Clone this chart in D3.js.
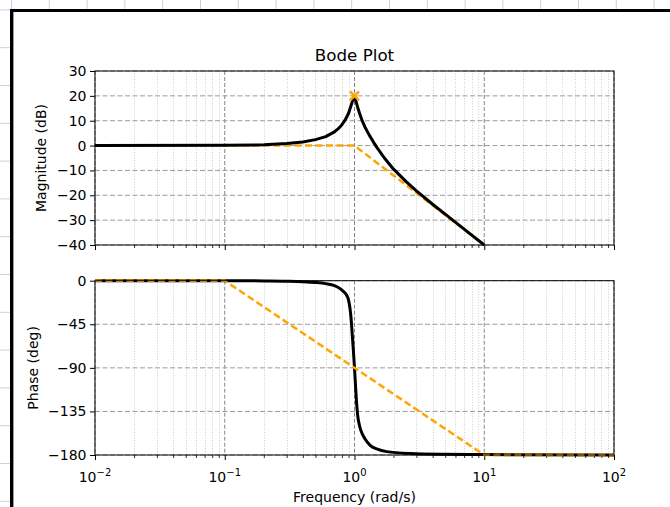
<!DOCTYPE html>
<html><head><meta charset="utf-8">
<script src="https://cdn.jsdelivr.net/npm/d3@7"></script>
<style>html,body{margin:0;padding:0;background:#fff;}svg{display:block;font-family:"DejaVu Sans",sans-serif;}</style>
</head><body>
<svg id="chart" width="670" height="507"></svg>
<script>
// ---- data ----
const magFreq  = [0.01, 0.1, 0.2, 0.3, 0.4, 0.5, 0.6, 0.7, 0.75, 0.8, 0.85, 0.9, 0.94, 0.97, 1.0, 1.03, 1.06, 1.1, 1.15, 1.2, 1.3, 1.4, 1.5, 1.7, 2.0, 2.5, 3, 4, 5, 7, 10];
const magDb    = [0, 0.1, 0.3, 0.8, 1.4, 2.4, 3.6, 5.5, 6.8, 8.4, 10.4, 13.0, 16.0, 18.3, 20, 17.6, 15.2, 12.6, 9.8, 7.6, 4.2, 1.4, -1.0, -5.0, -9.5, -14.5, -18.2, -23.6, -27.6, -33.6, -40];
const phaseFreq = [0.01, 0.1, 0.2, 0.3, 0.4, 0.5, 0.6, 0.7, 0.77, 0.82, 0.87, 0.9, 0.923, 0.94, 0.96, 0.98, 1.0, 1.02, 1.04, 1.06, 1.09, 1.13, 1.2, 1.32, 1.5, 1.77, 2.7, 5, 10, 100];
const phaseDeg  = [0, 0, -0.2, -0.5, -1, -1.8, -3, -5, -7.9, -11, -15, -20, -28.5, -38, -55, -72, -90, -110, -128, -140, -149, -156, -163, -170, -174, -176.5, -178.5, -179.3, -179.6, -180];
const magAsymFreq = [0.01, 1, 10];
const magAsymDb   = [0, 0, -40];
const phAsymFreq  = [0.01, 0.1, 10, 100];
const phAsymDeg   = [0, 0, -180, -180];
const peakFreq = [1];
const peakDb   = [20];
const magTicks   = [30, 20, 10, 0, -10, -20, -30, -40];
const phaseTicks = [0, -45, -90, -135, -180];
const freqMajor  = [0.01, 0.1, 1, 10, 100];
const freqExp    = ["−2", "−1", "0", "1", "2"];
const title = "Bode Plot";
const magLabel = "Magnitude (dB)";
const phaseLabel = "Phase (deg)";
const freqLabel = "Frequency (rad/s)";

// ---- layout ----
const svg = d3.select("#chart");
const L = 95, R = 614;
const magTop = 71, magBot = 245, phTop = 280.7, phBot = 455;
const FS = 14;

// background graph paper strips + frame
svg.append("rect").attr("width", 670).attr("height", 507).attr("fill", "#fff");
const paper = svg.append("g").attr("stroke", "#c3d3ea").attr("stroke-width", 1);
d3.range(11.5, 670, 37.8).forEach(v => {
  paper.append("line").attr("x1", v).attr("x2", v).attr("y1", 0).attr("y2", 10);
});
d3.range(9.9, 507, 37.8).forEach(v => {
  paper.append("line").attr("x1", 0).attr("x2", 10).attr("y1", v).attr("y2", v);
});
svg.append("line").attr("x1", 11.7).attr("x2", 11.7).attr("y1", 9).attr("y2", 507).attr("stroke", "#000").attr("stroke-width", 3.4);
svg.append("line").attr("x1", 10).attr("x2", 670).attr("y1", 10.5).attr("y2", 10.5).attr("stroke", "#000").attr("stroke-width", 3);

const x = d3.scaleLog().domain([0.01, 100]).range([L, R]);
const yMag = d3.scaleLinear().domain([-40, 30]).range([magBot, magTop]);
const yPh = d3.scaleLinear().domain([-180, 0]).range([phBot, phTop]);

const minor = [];
[0.01, 0.1, 1, 10].forEach(d => { for (let k = 2; k <= 9; k++) minor.push(d * k); });
const fmtY = d => (d < 0 ? "−" + Math.abs(d) : String(d));

function panel(yScale, top, bot, yTicks) {
  const g = svg.append("g");
  g.selectAll(".mg").data(minor).enter().append("line")
    .attr("x1", d => Math.round(x(d)) + 0.5).attr("x2", d => Math.round(x(d)) + 0.5)
    .attr("y1", top).attr("y2", bot)
    .attr("stroke", "#cccccc").attr("stroke-width", 1).attr("stroke-dasharray", "1,1.7");
  g.selectAll(".Mg").data(freqMajor).enter().append("line")
    .attr("x1", d => x(d)).attr("x2", d => x(d)).attr("y1", top).attr("y2", bot)
    .attr("stroke", "#858585").attr("stroke-width", 1).attr("stroke-dasharray", "4,2");
  g.selectAll(".hg").data(yTicks).enter().append("line")
    .attr("x1", L).attr("x2", R).attr("y1", d => yScale(d)).attr("y2", d => yScale(d))
    .attr("stroke", "#9a9a9a").attr("stroke-width", 1).attr("stroke-dasharray", "5,2.5");
  const ya = svg.append("g").attr("transform", `translate(${L},0)`)
    .call(d3.axisLeft(yScale).tickValues(yTicks).tickSize(5).tickPadding(3.5).tickFormat(fmtY));
  ya.select(".domain").remove();
  ya.selectAll("text").attr("font-size", FS).attr("font-family", "DejaVu Sans").attr("fill", "#000");
  ya.selectAll("line").attr("stroke", "#000");
  const xa = svg.append("g").attr("transform", `translate(0,${bot})`)
    .call(d3.axisBottom(x).tickValues(freqMajor).tickSize(5).tickFormat(""));
  xa.select(".domain").remove();
  xa.selectAll("line").attr("stroke", "#000");
  const xm = svg.append("g").attr("transform", `translate(0,${bot})`)
    .call(d3.axisBottom(x).tickValues(minor).tickSize(3).tickFormat(""));
  xm.select(".domain").remove();
  xm.selectAll("line").attr("stroke", "#000").attr("stroke-width", 0.8);
  return g;
}

panel(yMag, magTop, magBot, magTicks);
panel(yPh, phTop, phBot, phaseTicks);

const line = (ys) => d3.line().x(d => x(d[0])).y(d => ys(d[1]));

// magnitude
svg.append("path").datum(magAsymFreq.map((f, i) => [f, magAsymDb[i]]))
  .attr("d", line(yMag)).attr("fill", "none").attr("stroke", "#ffa500").attr("stroke-width", 2.5).attr("stroke-dasharray", "7,3.5");
svg.append("path").datum(magFreq.map((f, i) => [f, magDb[i]]))
  .attr("d", line(yMag)).attr("fill", "none").attr("stroke", "#000").attr("stroke-width", 3).attr("stroke-linejoin", "round");
peakFreq.forEach((f, i) => {
  const cx = x(f), cy = yMag(peakDb[i]), s = 4.5;
  svg.append("path").attr("d", `M${cx - s},${cy - s}L${cx + s},${cy + s}M${cx - s},${cy + s}L${cx + s},${cy - s}`)
    .attr("stroke", "#ffa500").attr("stroke-width", 2.6).attr("fill", "none");
});

// phase
svg.append("path").datum(phaseFreq.map((f, i) => [f, phaseDeg[i]]))
  .attr("d", line(yPh).curve(d3.curveMonotoneX)).attr("fill", "none").attr("stroke", "#000").attr("stroke-width", 3).attr("stroke-linejoin", "round");
svg.append("path").datum(phAsymFreq.map((f, i) => [f, phAsymDeg[i]]))
  .attr("d", line(yPh)).attr("fill", "none").attr("stroke", "#ffa500").attr("stroke-width", 2.5).attr("stroke-dasharray", "7,3.5");

// spines
[[magTop, magBot], [phTop, phBot]].forEach(([t, b]) => {
  svg.append("rect").attr("x", L).attr("y", t).attr("width", R - L).attr("height", b - t)
    .attr("fill", "none").attr("stroke", "#000").attr("stroke-width", 1);
});

// x tick labels with superscripts
const xl = svg.append("g").attr("font-size", FS).attr("fill", "#000");
freqMajor.forEach((f, i) => {
  const t = xl.append("text").attr("x", x(f)).attr("y", 481.5).attr("text-anchor", "middle");
  t.append("tspan").text("10");
  t.append("tspan").attr("dy", -6).attr("font-size", 10).text(freqExp[i]);
});

// titles / labels
svg.append("text").attr("x", (L + R) / 2).attr("y", 61).attr("text-anchor", "middle")
  .attr("font-size", 16.7).text(title);
svg.append("text").attr("transform", `translate(46,${(magTop + magBot) / 2}) rotate(-90)`)
  .attr("text-anchor", "middle").attr("font-size", FS).text(magLabel);
svg.append("text").attr("transform", `translate(37.5,${(phTop + phBot) / 2}) rotate(-90)`)
  .attr("text-anchor", "middle").attr("font-size", FS).text(phaseLabel);
svg.append("text").attr("x", (L + R) / 2).attr("y", 502).attr("text-anchor", "middle")
  .attr("font-size", FS).text(freqLabel);
</script>
</body></html>
